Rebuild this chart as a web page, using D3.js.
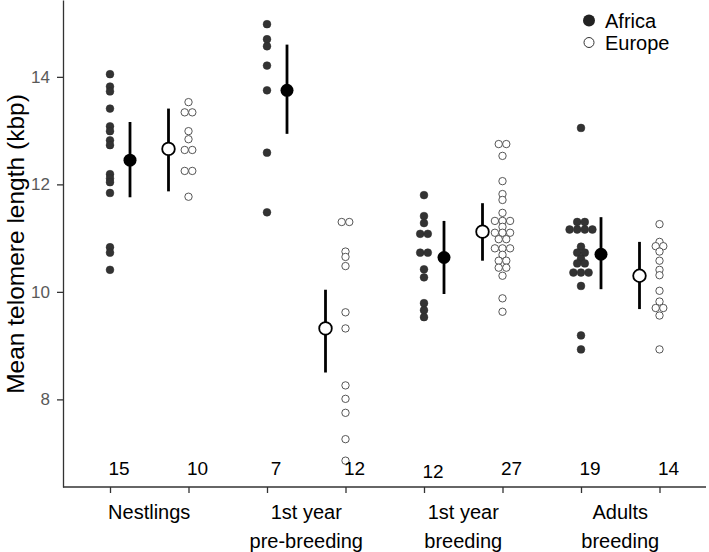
<!DOCTYPE html>
<html>
<head>
<meta charset="utf-8">
<script src="https://cdn.jsdelivr.net/npm/d3@7"></script>
<style>
  html, body { margin: 0; padding: 0; background: #fff; }
  svg { display: block; font-family: "Liberation Sans", Arial, sans-serif; }
</style>
</head>
<body>
<svg id="chart" width="709" height="552"></svg>
<script>
// ---------------- data ----------------
const categories = [["Nestlings"], ["1st year", "pre-breeding"], ["1st year", "breeding"], ["Adults", "breeding"]];
const origins = ["Africa", "Europe"];

const africaValues = [
  [14.05, 13.82, 13.73, 13.41, 13.08, 12.99, 12.82, 12.73, 12.19, 12.11, 12.04, 11.84, 10.83, 10.73, 10.41],
  [14.98, 14.70, 14.57, 14.21, 13.75, 12.59, 11.48],
  [11.80, 11.41, 11.28, 11.08, 11.08, 10.73, 10.73, 10.42, 10.27, 9.79, 9.66, 9.53],
  [13.05, 11.30, 11.30, 11.16, 11.16, 11.16, 11.16, 10.84, 10.73, 10.73, 10.62, 10.53, 10.53, 10.36, 10.36, 10.36, 10.11, 9.19, 8.93]
];
const europeValues = [
  [13.53, 13.34, 13.34, 12.99, 12.84, 12.64, 12.64, 12.25, 12.25, 11.77],
  [11.30, 11.30, 10.75, 10.65, 10.48, 9.62, 9.32, 8.26, 8.01, 7.75, 7.26, 6.86],
  [12.75, 12.75, 12.53, 12.06, 11.82, 11.71, 11.47, 11.32, 11.32, 11.32, 11.21, 11.10, 11.10, 11.10,
   10.98, 10.98, 10.81, 10.81, 10.81, 10.69, 10.58, 10.58, 10.45, 10.45, 10.30, 9.88, 9.63],
  [11.26, 10.93, 10.85, 10.85, 10.75, 10.58, 10.41, 10.31, 10.02, 9.82, 9.70, 9.70, 9.56, 8.93]
];

const africaMean = [12.45, 13.75, 10.64, 10.70];
const africaLow  = [11.76, 12.94, 9.96, 10.05];
const africaHigh = [13.16, 14.60, 11.32, 11.39];
const europeMean = [12.66, 9.32, 11.12, 10.30];
const europeLow  = [11.87, 8.50, 10.58, 9.68];
const europeHigh = [13.41, 10.04, 11.65, 10.93];

const africaN = [15, 7, 12, 19];
const europeN = [10, 12, 27, 14];

const yTicks = [8, 10, 12, 14];

// ---------------- layout ----------------
const svg = d3.select("#chart");
const plotLeft = 63, plotRight = 706, plotTop = 0, plotBottom = 487;
const font = "'Liberation Sans', Arial, sans-serif";

const keys = [];
categories.forEach((c, i) => origins.forEach(o => keys.push(i + "-" + o)));

const x = d3.scalePoint().domain(keys).range([110, 659.5]);
const y = d3.scaleLinear().domain([6.37, 15.43]).range([plotBottom, plotTop]);

const meanOffset = 20;
const dotR = 3.9;
const dotGap = 7.6;

// y axis
const yAxis = svg.append("g")
  .attr("transform", `translate(${plotLeft},0)`)
  .call(d3.axisLeft(y).tickValues(yTicks).tickSize(6).tickSizeOuter(0).tickPadding(7).tickFormat(d3.format("d")));
yAxis.select(".domain").attr("stroke", "#333").attr("stroke-width", 1.3);
yAxis.selectAll(".tick line").attr("stroke", "#333").attr("stroke-width", 1.3);
yAxis.selectAll(".tick text").attr("fill", "#595959").style("font-size", "17px").style("font-family", font);

// x axis (ticks only; full-width baseline)
const xAxis = svg.append("g")
  .attr("transform", `translate(0,${plotBottom})`)
  .call(d3.axisBottom(x).tickSize(6).tickSizeOuter(0).tickFormat(""));
xAxis.select(".domain").remove();
xAxis.selectAll(".tick line").attr("stroke", "#333").attr("stroke-width", 1.3);
svg.append("line")
  .attr("x1", plotLeft).attr("x2", plotRight)
  .attr("y1", plotBottom).attr("y2", plotBottom)
  .attr("stroke", "#333").attr("stroke-width", 1.3);

// y title
svg.append("text")
  .attr("transform", `translate(24,244) rotate(-90)`)
  .attr("text-anchor", "middle")
  .style("font-size", "24.5px")
  .attr("fill", "#000")
  .text("Mean telomere length (kbp)");

// swarm layout: equal values sit side by side
function swarm(vals) {
  const groups = d3.group(vals, v => v);
  const out = [];
  groups.forEach((arr, v) => {
    const n = arr.length;
    arr.forEach((_, k) => out.push({ v, dx: (k - (n - 1) / 2) * dotGap }));
  });
  return out;
}

categories.forEach((cat, i) => {
  const xa = x(i + "-Africa"), xe = x(i + "-Europe");

  // raw points
  svg.append("g").selectAll("circle")
    .data(swarm(africaValues[i])).join("circle")
    .attr("cx", d => xa + d.dx).attr("cy", d => y(d.v)).attr("r", dotR)
    .attr("fill", "#333").attr("stroke", "#2a2a2a").attr("stroke-width", 0.5);
  svg.append("g").selectAll("circle")
    .data(swarm(europeValues[i])).join("circle")
    .attr("cx", d => xe + d.dx).attr("cy", d => y(d.v)).attr("r", dotR - 0.2)
    .attr("fill", "#fff").attr("stroke", "#444").attr("stroke-width", 0.9);

  // means with error bars
  const mx1 = xa + meanOffset, mx2 = xe - meanOffset;
  svg.append("line").attr("x1", mx1).attr("x2", mx1)
    .attr("y1", y(africaLow[i])).attr("y2", y(africaHigh[i]))
    .attr("stroke", "#000").attr("stroke-width", 2.8);
  svg.append("circle").attr("cx", mx1).attr("cy", y(africaMean[i])).attr("r", 6.5)
    .attr("fill", "#000");
  svg.append("line").attr("x1", mx2).attr("x2", mx2)
    .attr("y1", y(europeLow[i])).attr("y2", y(europeHigh[i]))
    .attr("stroke", "#000").attr("stroke-width", 2.8);
  svg.append("circle").attr("cx", mx2).attr("cy", y(europeMean[i])).attr("r", 6.3)
    .attr("fill", "#fff").attr("stroke", "#000").attr("stroke-width", 1.8);

  // sample sizes
  svg.append("text").attr("x", xa + 9).attr("y", 475 + (i === 2 ? 3 : 0)).attr("text-anchor", "middle")
    .style("font-size", "19px").attr("fill", "#000").text(africaN[i]);
  svg.append("text").attr("x", xe + 9).attr("y", 475).attr("text-anchor", "middle")
    .style("font-size", "19px").attr("fill", "#000").text(europeN[i]);

  // category label
  const t = svg.append("text").attr("text-anchor", "middle")
    .style("font-size", "20px").attr("fill", "#000");
  cat.forEach((line, j) => {
    t.append("tspan").attr("x", (xa + xe) / 2).attr("y", 519 + j * 29).text(line);
  });
});

// legend
const legend = svg.append("g");
legend.append("circle").attr("cx", 589).attr("cy", 20.5).attr("r", 6).attr("fill", "#222");
legend.append("text").attr("x", 605).attr("y", 27.5).style("font-size", "20px").text(origins[0]);
legend.append("circle").attr("cx", 589).attr("cy", 42.5).attr("r", 5).attr("fill", "#fff")
  .attr("stroke", "#333").attr("stroke-width", 1);
legend.append("text").attr("x", 605).attr("y", 49.5).style("font-size", "20px").text(origins[1]);
</script>
</body>
</html>
